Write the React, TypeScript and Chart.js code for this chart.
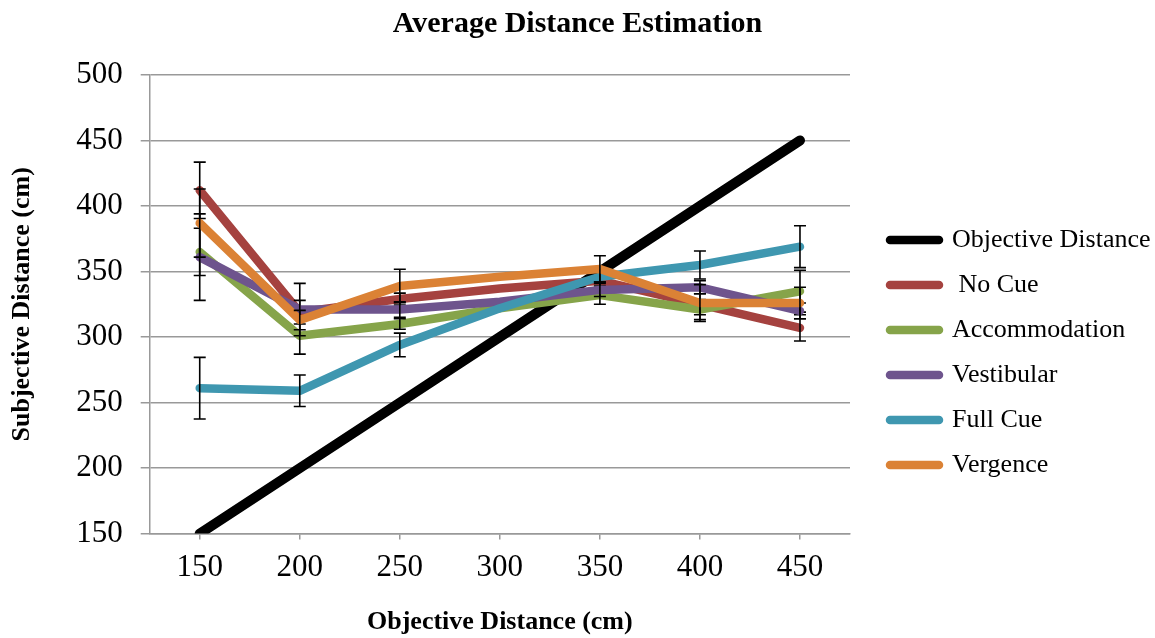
import React, { useEffect, useRef } from "react";
import { Chart, registerables } from "chart.js";

Chart.register(...registerables);

const categories = ["150", "200", "250", "300", "350", "400", "450"];
const yTicks = { min: 150, max: 500, step: 50 };

const objectiveDistance = [150, 200, 250, 300, 350, 400, 450];
const noCue = [412, 319, 329, 337, 343, 325, 307];
const accommodation = [365, 301, 310, 322, 332, 321, 335];
const vestibular = [361, 321, 321, 327, 336, 338, 320];
const fullCue = [261, 259, 294, 322, 346, 355, 369];
const vergence = [387, 313, 339, 346, 352, 326, 326];

const noCueErr = [21.5, 9, 4.5, null, 6, 8, 10];
const accommodationErr = [18, 14, 4, null, 7, 7.6, 16];
const vestibularErr = [33, 20, 6, null, 5, 5, 6];
const fullCueErr = [23.5, 12, 9, null, 4, 10.7, 16];
const vergenceErr = [26, 7.4, 12.7, null, 10, 14, 12];

const seriesNames = ["Objective Distance", " No Cue", "Accommodation", "Vestibular", "Full Cue", "Vergence"];
const seriesValues = [objectiveDistance, noCue, accommodation, vestibular, fullCue, vergence];
const seriesErrors = [null, noCueErr, accommodationErr, vestibularErr, fullCueErr, vergenceErr];
const seriesColors = ["#000000", "#A5423F", "#86A44A", "#6E548D", "#3F97B0", "#DB8235"];
const seriesWidths = [10, 8.5, 8.5, 8.5, 8.5, 8.5];

const FONT = "'Liberation Serif', 'Times New Roman', serif";

const errorBarPlugin = {
  id: "errorBars",
  afterDatasetDraw(chart: any, args: any) {
    const errs = seriesErrors[args.index];
    if (!errs) return;
    const yScale = chart.scales.y;
    const ctx = chart.ctx;
    const values = chart.data.datasets[args.index].data;
    ctx.save();
    ctx.strokeStyle = "#000000";
    ctx.lineWidth = 1.6;
    ctx.lineCap = "butt";
    args.meta.data.forEach((pt: any, i: number) => {
      const e = errs[i];
      if (e == null) return;
      const v = values[i];
      const x = pt.x;
      const yTop = yScale.getPixelForValue(v + e);
      const yBot = yScale.getPixelForValue(v - e);
      const cap = 6;
      ctx.beginPath();
      ctx.moveTo(x, yTop);
      ctx.lineTo(x, yBot);
      ctx.moveTo(x - cap, yTop);
      ctx.lineTo(x + cap, yTop);
      ctx.moveTo(x - cap, yBot);
      ctx.lineTo(x + cap, yBot);
      ctx.stroke();
    });
    ctx.restore();
  },
};

export default function App() {
  const canvasRef = useRef<HTMLCanvasElement | null>(null);

  useEffect(() => {
    if (!canvasRef.current) return;
    const n = seriesNames.length;
    const defaultLabels = (Chart.defaults.plugins.legend.labels as any).generateLabels;
    const chart = new Chart(canvasRef.current, {
      type: "line",
      data: {
        labels: categories,
        datasets: seriesNames.map((name, i) => ({
          label: name,
          data: seriesValues[i],
          borderColor: seriesColors[i],
          backgroundColor: seriesColors[i],
          borderWidth: seriesWidths[i],
          borderCapStyle: "round",
          borderJoinStyle: "round",
          pointRadius: 0,
          pointHoverRadius: 0,
          pointStyle: "line",
          tension: 0,
          fill: false,
          order: n - i,
        })),
      },
      options: {
        responsive: false,
        animation: false,
        events: [],
        layout: { padding: 0 },
        plugins: {
          title: {
            display: true,
            text: "Average Distance Estimation",
            color: "#000000",
            font: { family: FONT, size: 30, weight: "bold" },
            padding: { top: 6, bottom: 33 },
          },
          legend: {
            display: true,
            position: "right",
            align: "start",
            maxWidth: 284,
            title: {
              display: true,
              text: " ",
              font: { family: FONT, size: 10 },
              padding: { top: 196, bottom: 0 },
            },
            labels: {
              color: "#000000",
              font: { family: FONT, size: 26 },
              usePointStyle: true,
              pointStyle: "line",
              pointStyleWidth: 49,
              boxWidth: 49,
              boxHeight: 8,
              padding: 19,
              sort: (a: any, b: any) => a.datasetIndex - b.datasetIndex,
              generateLabels: (c: any) =>
                defaultLabels(c).map((l: any) => ({
                  ...l,
                  pointStyle: "line",
                  lineCap: "round",
                  lineWidth: 8.5,
                  strokeStyle: seriesColors[l.datasetIndex],
                  fillStyle: seriesColors[l.datasetIndex],
                })),
            },
          },
          tooltip: { enabled: false },
        },
        scales: {
          x: {
            type: "category",
            offset: true,
            grid: {
              display: true,
              drawOnChartArea: false,
              drawTicks: true,
              tickLength: 6,
              color: "#999999",
              lineWidth: 1.5,
              offset: false,
            },
            border: { display: true, color: "#999999", width: 1.5 },
            ticks: {
              color: "#000000",
              font: { family: FONT, size: 31 },
              padding: 10,
              maxRotation: 0,
              autoSkip: false,
            },
            title: {
              display: true,
              text: "Objective Distance (cm)",
              color: "#000000",
              font: { family: FONT, size: 26, weight: "bold" },
              padding: { top: 10, bottom: 0 },
            },
          },
          y: {
            type: "linear",
            position: "left",
            min: yTicks.min,
            max: yTicks.max,
            grid: {
              color: "#999999",
              lineWidth: 1.5,
              tickLength: 9,
              drawTicks: true,
            },
            border: { display: true, color: "#999999", width: 1.5 },
            ticks: {
              stepSize: yTicks.step,
              color: "#000000",
              font: { family: FONT, size: 31 },
              padding: 18,
            },
            title: {
              display: true,
              text: "Subjective Distance (cm)",
              color: "#000000",
              font: { family: FONT, size: 26, weight: "bold" },
              padding: { top: 7, bottom: 20 },
            },
          },
          gap: {
            type: "linear",
            position: "right",
            display: true,
            grid: { display: false, drawTicks: false },
            border: { display: false },
            ticks: { display: false },
            afterFit: (scale: any) => {
              scale.width = 21;
            },
          },
        },
      },
      plugins: [errorBarPlugin],
    } as any);
    return () => chart.destroy();
  }, []);

  return (
    <div style={{ position: "fixed", left: 0, top: 0, width: 1155, height: 638, background: "#ffffff" }}>
      <canvas ref={canvasRef} width={1155} height={638} />
    </div>
  );
}
